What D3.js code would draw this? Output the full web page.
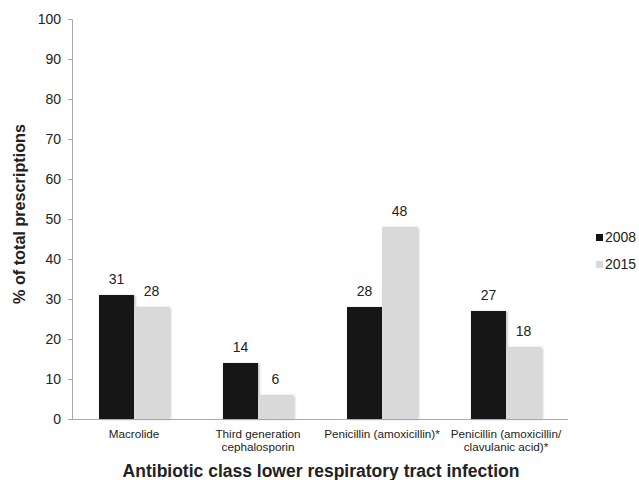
<!DOCTYPE html>
<html><head><meta charset="utf-8">
<script src="https://cdn.jsdelivr.net/npm/d3@7"></script>
<style>body{margin:0;background:#fff;}text{font-family:"Liberation Sans",Arial,sans-serif;fill:#222;}</style>
</head><body>
<svg id="c" width="639" height="480"></svg>
<script>
const categories = [["Macrolide"],["Third generation","cephalosporin"],["Penicillin (amoxicillin)*"],["Penicillin (amoxicillin/","clavulanic acid)*"]];
const seriesNames = ["2008","2015"];
const values2008 = [31,14,28,27];
const values2015 = [28,6,48,18];
const yTicks = [0,10,20,30,40,50,60,70,80,90,100];
const colors = ["#141414","#d9d9d9"];

(function(){
const svg = d3.select("#c");
const defs = svg.append("defs");
const f = defs.append("filter").attr("id","sh").attr("x","-20%").attr("y","-5%").attr("width","140%").attr("height","110%");
f.append("feDropShadow").attr("dx",1.5).attr("dy",0.5).attr("stdDeviation",1).attr("flood-color","#000").attr("flood-opacity",0.25);

const mLeft=72, mRight=568, mTop=19, mBottom=419;
const y = d3.scaleLinear().domain([0,100]).range([mBottom,mTop]);
const x0 = d3.scaleBand().domain(d3.range(categories.length)).range([mLeft,mRight]).paddingInner(0.435).paddingOuter(0.2175);
const x1 = d3.scaleBand().domain(seriesNames).range([0,x0.bandwidth()]);

const yAxis = d3.axisLeft(y).tickValues(yTicks).tickSize(4).tickPadding(7);
const gy = svg.append("g").attr("transform",`translate(${mLeft},0)`).call(yAxis);
gy.select(".domain").attr("stroke","#aaa");
gy.selectAll(".tick line").attr("stroke","#aaa");
gy.selectAll(".tick text").attr("font-size",14).style("fill","#222").style("font-family","'Liberation Sans',Arial,sans-serif");

const data = seriesNames.map((s,i)=>({name:s, vals: i===0?values2008:values2015}));
data.forEach((s,si)=>{
  const g = svg.append("g");
  g.selectAll("rect").data(s.vals).enter().append("rect")
    .attr("x",(d,i)=>x0(i)+x1(s.name))
    .attr("y",d=>y(d))
    .attr("width",x1.bandwidth())
    .attr("height",d=>y(0)-y(d))
    .attr("fill",colors[si])
    .attr("filter","url(#sh)");
  g.selectAll("text").data(s.vals).enter().append("text")
    .attr("x",(d,i)=>x0(i)+x1(s.name)+x1.bandwidth()/2)
    .attr("y",d=>y(d)-11)
    .attr("text-anchor","middle").attr("font-size",14)
    .text(d=>d);
});

svg.append("line").attr("x1",mLeft).attr("x2",mRight).attr("y1",mBottom+0.5).attr("y2",mBottom+0.5).attr("stroke","#aaa");

categories.forEach((lines,i)=>{
  const cx = x0(i)+x0.bandwidth()/2;
  const t = svg.append("text").attr("text-anchor","middle").attr("font-size",11.7).attr("x",cx).attr("y",438);
  lines.forEach((l,j)=>t.append("tspan").attr("x",cx).attr("dy",j===0?0:13).text(l));
});

svg.append("text").attr("x",321).attr("y",477).attr("text-anchor","middle").attr("font-size",17.5).attr("font-weight","bold")
  .text("Antibiotic class lower respiratory tract infection");
svg.append("text").attr("transform","translate(25,214) rotate(-90)").attr("text-anchor","middle").attr("font-size",16.2).attr("font-weight","bold")
  .text("% of total prescriptions");

seriesNames.forEach((s,i)=>{
  const ly = 234 + i*27;
  svg.append("rect").attr("x",596).attr("y",ly).attr("width",7).attr("height",7).attr("fill",colors[i]);
  svg.append("text").attr("x",605).attr("y",ly+8).attr("font-size",14).text(s);
});
})();
</script>
</body></html>
